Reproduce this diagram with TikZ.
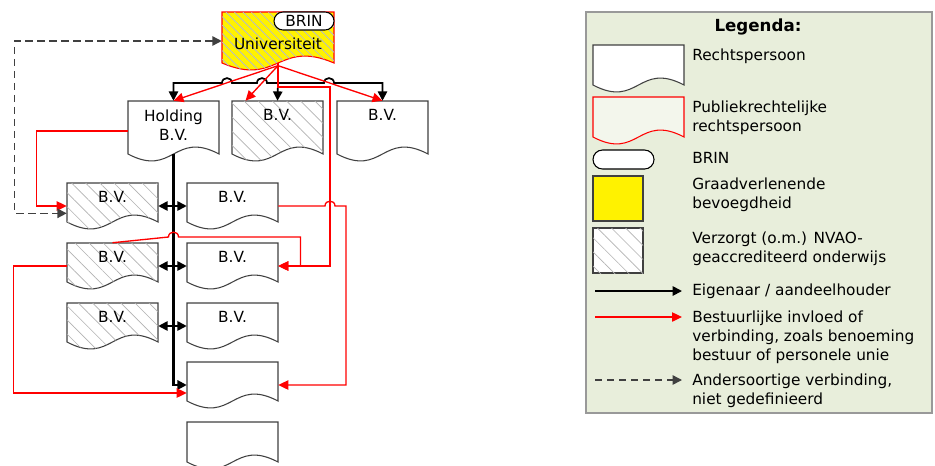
\documentclass[tikz,border=0pt]{standalone}
\usepackage{fontspec}
\setmainfont{DejaVu Sans}
\usetikzlibrary{arrows.meta,patterns.meta,shapes.misc}

\definecolor{legbg}{HTML}{E8EEDB}
\definecolor{prpfill}{HTML}{F3F6EC}
\definecolor{hatchblue}{HTML}{A9B3E6}
\definecolor{lijn}{HTML}{404040}

\tikzset{
    rp/.style = {draw=lijn, line width=0.8pt, fill=white},
    prp/.style = {draw=red, line width=0.8pt, fill=prpfill},
    hatched/.style = {rp, postaction={pattern={Lines[angle=-45,distance=7.5pt,line width=0.5pt]}, pattern color=black!30}},
    univ/.style = {draw=red, line width=0.8pt, fill=yellow, postaction={pattern={Lines[angle=-45,distance=4.5pt,line width=0.5pt]}, pattern color=hatchblue}},
    rpnode/.style = {rectangle, inner sep=0pt},
    bvtext/.style = {anchor=north, align=center, inner sep=0pt, yshift=-6.5pt},
    legtext/.style = {anchor=west, align=left, inner sep=0pt},
    brin/.style = {rounded rectangle, draw=black, line width=0.8pt, fill=white, inner sep=0pt, minimum width=45pt, minimum height=13.5pt},
    eig/.style = {line width=1.3pt, -{Triangle[length=7pt,width=7pt]}},
    bst/.style = {red, line width=1pt, -{Triangle[length=7.5pt,width=7pt]}},
    anders/.style = {lijn, line width=1.1pt, dash pattern=on 5.5pt off 3.5pt, {Triangle[length=7pt,width=7pt]}-{Triangle[length=7pt,width=7pt]}},
}

% rechtspersoon: style, name, x, y, width, side height (pixels)
\newcommand\rpersoon[6]{%
    \filldraw[#1] (#3,#4) -- ++(#5,0) -- ++(0,#6)
        .. controls ({#3+#5/2},{#4+#6-24}) and ({#3+#5/2},{#4+#6+24}) .. (#3,{#4+#6}) -- cycle;
    \node[rpnode, minimum width=#5*0.75pt, minimum height={(#6+7)*0.75pt}] (#2) at ({#3+#5/2},{#4+(#6+7)/2}) {};
    \coordinate (#2-w) at ({#3+#5/2},{#4+#6});
}
% line jumps
\newcommand\hopR[2]{-- ({#1-5},#2) .. controls ({#1-5},{#2-6.5}) and ({#1+5},{#2-6.5}) .. ({#1+5},#2)}
\newcommand\hopL[2]{-- ({#1+5},#2) .. controls ({#1+5},{#2-6.5}) and ({#1-5},{#2-6.5}) .. ({#1-5},#2)}

\begin{document}
\begin{tikzpicture}[x=0.75pt, y=-0.75pt, font=\fontsize{11.5}{14.25}\selectfont]
\useasboundingbox (0,0) rectangle (935,465);
\clip (0,0) rectangle (935,465);

% legenda
\filldraw[draw=black!40, fill=legbg, line width=0.8pt] (586,12) rectangle (932,413);
\node[font=\fontsize{12.5}{14.25}\selectfont\bfseries] (legtitle) at (758,27) {Legenda:};
\rpersoon{rp}{leg-rp}{593}{45}{91}{40}
\rpersoon{prp}{leg-prp}{593}{97}{91}{40}
\node[brin, minimum width=45.75pt, minimum height=14.25pt] (leg-brin) at (623.5,159.5) {};
\filldraw[draw=black!75, fill=yellow, line width=0.8pt] (593,176) rectangle (643,221);
\filldraw[hatched, draw=black!75] (593,228) rectangle (643,273);
\draw[eig] (595,291) -- (682,291);
\draw[bst] (595,317) -- (682,317);
\draw[anders, {}-{Triangle[length=7pt,width=7pt]}] (595,380) -- (682,380);
\node[legtext] (leg1) at (692,56) {Rechtspersoon};
\node[legtext] (leg2) at (692,117.5) {Publiekrechtelijke\\rechtspersoon};
\node[legtext] (leg3) at (692,158) {BRIN};
\node[legtext] (leg4) at (692,195) {Graadverlenende\\bevoegdheid};
\node[legtext] (leg5) at (692,249) {Verzorgt (o.m.) NVAO-\\geaccrediteerd onderwijs};
\node[legtext] (leg6) at (692,291) {Eigenaar / aandeelhouder};
\node[legtext] (leg7) at (692,337) {Bestuurlijke invloed of\\verbinding, zoals benoeming\\bestuur of personele unie};
\node[legtext] (leg8) at (692,390.5) {Andersoortige verbinding,\\niet gedefinieerd};

% rechtspersonen
\rpersoon{univ}{univ}{222}{12}{112}{51}
\node[brin] (brin) at (304,21) {BRIN};
\node (univ-t) at (278,44) {Universiteit};
\rpersoon{rp}{hold}{128}{101}{91}{53}
\rpersoon{hatched}{bvm}{232}{101}{91}{53}
\rpersoon{rp}{bvr}{337}{101}{91}{53}
\foreach \r/\y in {2/183,3/243,4/303}{
    \rpersoon{hatched}{h\r}{67}{\y}{91}{39}
    \rpersoon{rp}{b\r}{187}{\y}{91}{39}
}
\rpersoon{rp}{r5}{187}{362}{91}{39}
\rpersoon{rp}{r6}{187}{422}{91}{40}
\node[bvtext] (hold-t) at (hold.north) {Holding\\B.V.};
\foreach \n in {bvm,bvr,h2,b2,h3,b3,h4,b4}
    \node[bvtext] (\n-t) at (\n.north) {B.V.};

% eigenaar / aandeelhouder
\draw[eig, -] (univ-w) -- ++(0,20) coordinate (split);
\draw[eig] (split) \hopL{262}{83} \hopL{227}{83} -| (hold.north);
\draw[eig] (split) -- (bvm.north);
\draw[eig] (split) \hopR{329}{83} -| (bvr.north);
\draw[eig, line width=1.6pt] (hold-w) |- (r5.west);
\foreach \r in {2,3,4}
    \draw[eig, {Triangle[length=7pt,width=7pt]}-{Triangle[length=7pt,width=7pt]}] (h\r.east) -- (b\r.west);

% bestuurlijke invloed
\draw[bst] ([yshift=-2pt]univ-w) -- (hold.north);
\draw[bst] ([yshift=-2pt]univ-w) -- ([xshift=-24pt]bvm.north);
\draw[bst] ([yshift=-2pt]univ-w) -- (bvr.north);
\draw[bst] (univ-w) -- ++(0,24) -- ++(52,0) |- (b3.east);
\draw[bst] (hold.west) -- ++(-91,0) |- (h2.west);
\draw[bst] (b2.east) \hopR{330}{206} -- ++(11,0) |- (r5.east);
\draw[bst] (h3.north) \hopR{173.5}{237} -- ++(122,0) |- (b3.east);
\draw[bst] (h3.west) -- ++(-53,0) |- ([yshift=-6pt]r5.west);

% andersoortig
\draw[anders] (univ.west) -- ++(-207,0) |- ([yshift=-5.5pt]h2.west);
\end{tikzpicture}
\end{document}
